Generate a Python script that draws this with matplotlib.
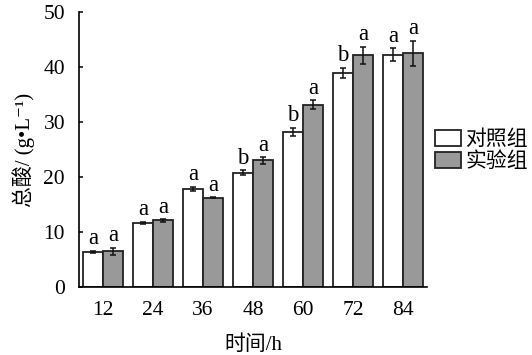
import numpy as np
import matplotlib.pyplot as plt

plt.rcParams['font.family'] = ['Liberation Serif', 'Noto Sans CJK SC', 'DejaVu Serif']

# 数据
hours = ['12', '24', '36', '48', '60', '72', '84']
control = [6.4, 11.7, 17.8, 20.8, 28.2, 38.9, 42.2]
control_err = [0.2, 0.2, 0.4, 0.4, 0.7, 0.9, 1.2]
treat = [6.5, 12.1, 16.2, 23.0, 33.1, 42.1, 42.5]
treat_err = [0.6, 0.2, 0.1, 0.6, 0.8, 1.6, 2.3]
control_sig = ['a', 'a', 'a', 'b', 'b', 'b', 'a']
treat_sig = ['a', 'a', 'a', 'a', 'a', 'a', 'a']

x = np.arange(len(hours))
w = 0.4

fig = plt.figure(figsize=(5.32, 3.55), dpi=100)
ax = fig.add_axes([0.1485, 0.1915, 0.654, 0.775])

ax.bar(x - w / 2, control, w, color='white', edgecolor='#222222', linewidth=1.3,
       label='对照组', zorder=2)
ax.bar(x + w / 2, treat, w, color='#999999', edgecolor='#222222', linewidth=1.3,
       label='实验组', zorder=2)
ax.errorbar(x - w / 2, control, yerr=control_err, fmt='none', ecolor='#111111',
            elinewidth=1.1, capsize=2.5, capthick=1.1, zorder=3)
ax.errorbar(x + w / 2, treat, yerr=treat_err, fmt='none', ecolor='#111111',
            elinewidth=1.1, capsize=2.5, capthick=1.1, zorder=3)

for i in range(len(hours)):
    ax.text(x[i] - w / 2, control[i] + control_err[i] + 0.3, control_sig[i],
            ha='center', va='bottom', fontsize=16.5)
    ax.text(x[i] + w / 2, treat[i] + treat_err[i] + 0.3, treat_sig[i],
            ha='center', va='bottom', fontsize=16.5)

ax.set_xlim(-0.48, len(hours) - 1 + 0.48)
ax.set_ylim(0, 50)
ax.set_yticks([0, 10, 20, 30, 40, 50])
ax.set_xticks(x)
ax.set_xticklabels(hours)
ax.tick_params(axis='x', length=0, labelsize=15.5, pad=10)
ax.tick_params(axis='y', direction='in', length=3, width=1.1, labelsize=15.5, pad=10)
for s in ['top', 'right']:
    ax.spines[s].set_visible(False)
ax.spines['left'].set_linewidth(1.2)
ax.spines['bottom'].set_linewidth(1.2)

ax.set_xlabel('时间/h', fontsize=15, labelpad=11)
ax.set_ylabel('总酸/ (g•L⁻¹)', fontsize=15, labelpad=6)

ax.legend(loc='center left', bbox_to_anchor=(1.0, 0.495), frameon=False,
          fontsize=15, handlelength=1.25, handleheight=0.8, handletextpad=0.2,
          labelspacing=0.08, borderaxespad=0)

fig.savefig('out.png', dpi=100)
